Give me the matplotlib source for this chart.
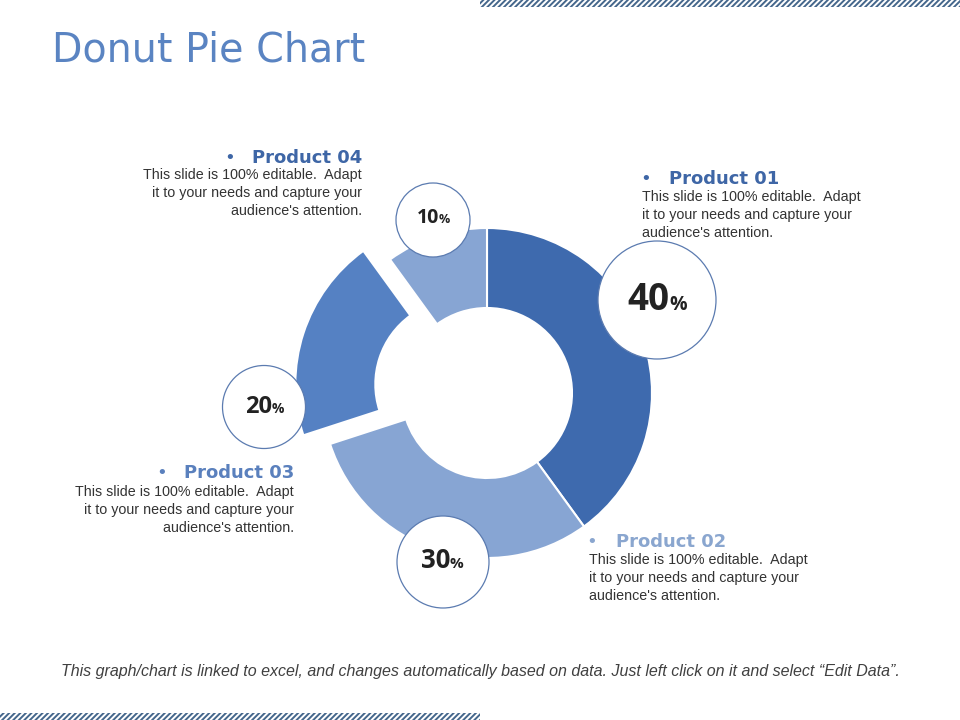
import matplotlib.pyplot as plt
from matplotlib.patches import Circle, Rectangle

plt.rcParams['hatch.linewidth'] = 1.4

# data
products = ["Product 01", "Product 02", "Product 03", "Product 04"]
shares = [40, 30, 20, 10]
desc_lines = ["This slide is 100% editable.  Adapt",
              "it to your needs and capture your",
              "audience's attention."]
title = "Donut Pie Chart"
footer = ("This graph/chart is linked to excel, and changes automatically based on data. "
          "Just left click on it and select \u201cEdit Data\u201d.")

wedge_colors = ["#3e6aae", "#87a5d3", "#5581c3", "#87a5d3"]
label_colors = ["#3e66a6", "#8aa6cf", "#5a80bd", "#3e66a6"]

fig = plt.figure(figsize=(9.6, 7.2), dpi=100)

# donut: centre (487, 393) px, outer radius 165 px
R = 165.0
cx, cy = 487, 393
half = 200
pax = fig.add_axes([(cx - half) / 960, (720 - cy - half) / 720, 2 * half / 960, 2 * half / 720])
pax.pie(shares, colors=wedge_colors, startangle=90, counterclock=False,
        explode=[0, 0, 0.17, 0], radius=1.0,
        wedgeprops=dict(width=80 / R, edgecolor="white", linewidth=1.5))
pax.set_xlim(-half / R, half / R)
pax.set_ylim(-half / R, half / R)
pax.set_aspect("auto")
pax.axis("off")

# overlay in pixel coordinates
ax = fig.add_axes([0, 0, 1, 1], zorder=2)
ax.set_xlim(0, 960)
ax.set_ylim(720, 0)
ax.axis("off")
ax.patch.set_alpha(0)

# hatched bars
ax.add_patch(Rectangle((480, 0), 480, 6.5, facecolor="white", edgecolor="#45678c",
                       hatch="//////", linewidth=0))
ax.add_patch(Rectangle((0, 712.5), 480, 8, facecolor="white", edgecolor="#45678c",
                       hatch="//////", linewidth=0))

ax.text(52, 62, title, fontsize=28.5, color="#5a84c2", family="DejaVu Sans",
        ha="left", va="baseline")

# percentage bubbles: (centre x, centre y, radius, split x, baseline, num size, pct size)
bubbles = [(657, 300, 59, 669, 310, 26.5, 14),
           (443, 562, 46, 450, 568, 18.5, 11),
           (264, 407, 41.5, 272, 413, 17, 10),
           (433, 220, 37, 439, 223, 14, 9)]
for v, (bx, by, br, sx, bl, fs1, fs2) in zip(shares, bubbles):
    ax.add_patch(Circle((bx, by), br, facecolor="white", edgecolor="#5b7bb0", linewidth=0.9))
    ax.text(sx, bl, str(v), fontsize=fs1, fontweight="bold", family="Open Sans",
            color="#222222", ha="right", va="baseline")
    ax.text(sx, bl, "%", fontsize=fs2, fontweight="bold", family="Open Sans",
            color="#222222", ha="left", va="baseline")

# product labels: (bullet x, title x, title baseline, desc x, first desc baseline, align)
labels = [(646, 669, 184, 642, 201, "left"),
          (592, 616, 547, 589, 564, "left"),
          (162, 294, 478, 294, 496, "right"),
          (230, 362, 163, 362, 179, "right")]
for name, col, (bx, tx, tb, dx, db, al) in zip(products, label_colors, labels):
    ax.text(bx, tb, "\u2022", fontsize=13, color=col, ha="center", va="baseline",
            family="DejaVu Sans")
    ax.text(tx, tb, name, fontsize=13, fontweight="bold", color=col, ha=al,
            va="baseline", family="DejaVu Sans")
    for i, line in enumerate(desc_lines):
        ax.text(dx, db + 18 * i, line, fontsize=10.3, color="#333333", ha=al,
                va="baseline", family="Liberation Sans")

ax.text(480, 676, footer, fontsize=11.5, style="italic", color="#404040",
        ha="center", va="baseline", family="Liberation Sans")

fig.savefig("out.png", dpi=100)
